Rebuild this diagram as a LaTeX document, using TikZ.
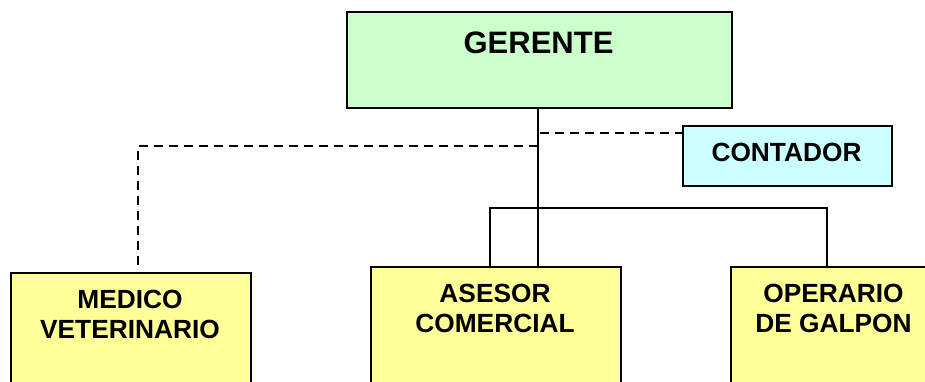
\documentclass[tikz,border=0pt]{standalone}
\usepackage{fontspec}
\setmainfont{Liberation Sans}
\definecolor{gergreen}{HTML}{CCFFCC}
\definecolor{concyan}{HTML}{CCFFFF}
\definecolor{boxyellow}{HTML}{FFFF99}
\tikzset{
  orgbox/.style={draw=black, line width=1.7pt, rectangle, inner sep=0pt, anchor=north west},
  lbl/.style={font=\bfseries\fontsize{26.3}{30}\selectfont, align=center, inner sep=0pt},
  biglbl/.style={font=\bfseries\fontsize{31}{36}\selectfont, inner sep=0pt},
  solidline/.style={line width=1.5pt},
  dashline/.style={line width=1.8pt, dash pattern=on 9pt off 6pt}
}
\begin{document}
\begin{tikzpicture}[x=1pt,y=-1pt]
\useasboundingbox (0,0) rectangle (925,381);
\clip (0,0) rectangle (925,381);
\fill[white] (0,0) rectangle (925,381);
% boxes
\node[orgbox, fill=gergreen, minimum width=385pt, minimum height=96pt] (ger) at (346,11) {};
\node[biglbl] (gert) at (538.5,42.5) {GERENTE};
\node[orgbox, fill=concyan, minimum width=209pt, minimum height=60pt] (con) at (682,125) {};
\node[lbl] (cont) at (786.5,152) {CONTADOR};
\node[orgbox, fill=boxyellow, minimum width=240pt, minimum height=150pt] (med) at (10,272) {};
\node[lbl] (medt) at (130,314) {MEDICO\\VETERINARIO};
\node[orgbox, fill=boxyellow, minimum width=250pt, minimum height=150pt] (ase) at (370,266) {};
\node[lbl] (aset) at (495,308.5) {ASESOR\\COMERCIAL};
\node[orgbox, fill=boxyellow, minimum width=207pt, minimum height=150pt] (ope) at (730,266) {};
\node[lbl] (opet) at (833.5,308) {OPERARIO\\DE GALPON};
% coordinates
\coordinate (vx) at (538,107);
\coordinate (barL) at (490,208);
\coordinate (barR) at (827,208);
\coordinate (cj) at (540,133);
\coordinate (mj) at (538,146);
\coordinate (mc) at (138,146);
\coordinate (mend) at (138,266);
% solid connectors
\draw[solidline] (vx) -- (vx |- ase.north);
\draw[solidline] (ase.north -| barL) -- (barL) -- (barR) -- (ope.north -| barR);
% dashed connectors
\draw[dashline] (cj) -- (cj -| con.west);
\draw[dashline] (mj) -- (mc) -- (mend);
\end{tikzpicture}
\end{document}
